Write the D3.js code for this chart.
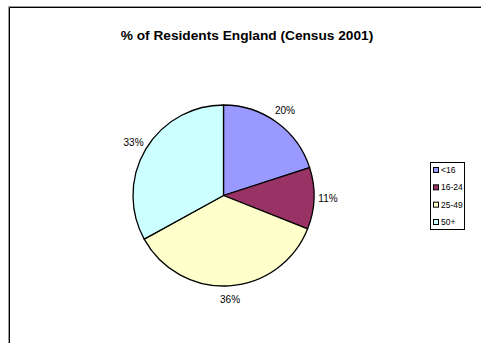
<!DOCTYPE html>
<html>
<head>
<meta charset="utf-8">
<script src="https://cdn.jsdelivr.net/npm/d3@7"></script>
<style>
  html, body { margin: 0; padding: 0; background: #fff; }
  svg { display: block; font-family: Arial, "Liberation Sans", sans-serif; }
</style>
</head>
<body>
<svg id="chart" width="481" height="343"></svg>
<script>
// Age groups and their share of residents (percent)
const categories = ["<16", "16-24", "25-49", "50+"];
const shares = [20, 11, 36, 33];
const colors = ["#9999FF", "#993366", "#FFFFCC", "#CCFFFF"];
const title = "% of Residents England (Census 2001)";

const svg = d3.select("#chart");
const W = 481, H = 343;

svg.append("rect").attr("width", W).attr("height", H).attr("fill", "#fff");

// Chart area frame (runs off the right and bottom edges)
svg.append("path")
  .attr("d", `M8.5,${H + 2} V6.5 H${W + 2}`)
  .attr("fill", "none").attr("stroke", "#999").attr("stroke-width", 1);
svg.append("path")
  .attr("d", `M9.5,${H + 2} V7.5 H${W + 2}`)
  .attr("fill", "none").attr("stroke", "#000").attr("stroke-width", 1);

svg.append("text")
  .attr("x", 247).attr("y", 39.5)
  .attr("text-anchor", "middle")
  .attr("font-size", 13.7).attr("font-weight", "bold")
  .attr("fill", "#000")
  .text(title);

const cx = 223.5, cy = 195.5, r = 90.5;
const data = categories.map((c, i) => ({ cat: c, value: shares[i], color: colors[i] }));
const pie = d3.pie().value(d => d.value).sort(null);
const arcs = pie(data);
const arc = d3.arc().innerRadius(0).outerRadius(r);
const labelArc = d3.arc().innerRadius(r + 14).outerRadius(r + 14);

const g = svg.append("g").attr("transform", `translate(${cx},${cy})`);
g.selectAll("path.slice").data(arcs).enter().append("path")
  .attr("class", "slice")
  .attr("d", arc)
  .attr("fill", d => d.data.color)
  .attr("stroke", "#000").attr("stroke-width", 1.3)
  .attr("stroke-linejoin", "round");

const fmt = d3.format(".0%");
const total = d3.sum(shares);
g.selectAll("text.lbl").data(arcs).enter().append("text")
  .attr("class", "lbl")
  .attr("transform", d => {
    const [x, y] = labelArc.centroid(d);
    return `translate(${x},${y})`;
  })
  .attr("text-anchor", "middle")
  .attr("dy", "0.35em")
  .attr("font-size", 10).attr("fill", "#000")
  .text(d => fmt(d.data.value / total));

// Legend
const lg = svg.append("g");
lg.append("rect")
  .attr("x", 430.5).attr("y", 162.5).attr("width", 34).attr("height", 67)
  .attr("fill", "#fff").attr("stroke", "#000").attr("stroke-width", 1);
const rowY = d3.scalePoint().domain(categories).range([170, 222]);
categories.forEach((c, i) => {
  const y = rowY(c);
  lg.append("rect")
    .attr("x", 433.5).attr("y", y - 2.5).attr("width", 5).attr("height", 5)
    .attr("fill", colors[i]).attr("stroke", "#000").attr("stroke-width", 1);
  lg.append("text")
    .attr("x", 441).attr("y", y).attr("dy", "0.35em")
    .attr("font-size", 8.5).attr("fill", "#000")
    .text(c);
});
</script>
</body>
</html>
